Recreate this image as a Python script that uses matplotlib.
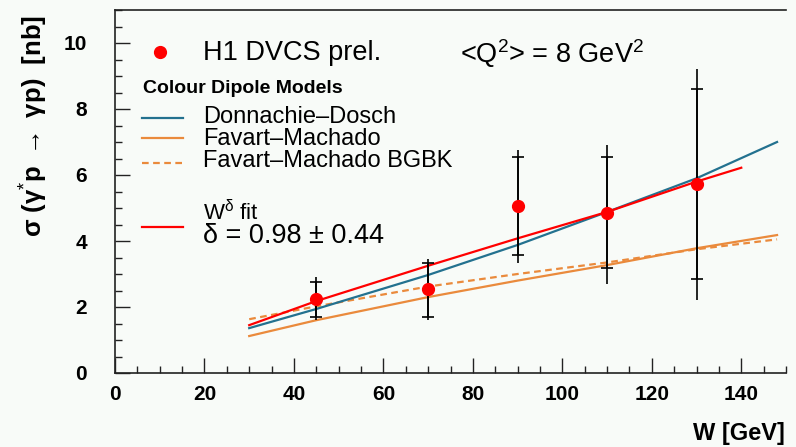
import matplotlib
matplotlib.use("Agg")
import matplotlib.pyplot as plt
import numpy as np

plt.rcParams['font.family'] = ['Liberation Sans', 'DejaVu Sans']
plt.rcParams['mathtext.fontset'] = 'custom'
plt.rcParams['mathtext.rm'] = 'Liberation Sans'
plt.rcParams['mathtext.it'] = 'Liberation Sans'
plt.rcParams['mathtext.bf'] = 'Liberation Sans:bold'
plt.rcParams['mathtext.fallback'] = 'stixsans'

# ---- data ----
W_data = [45, 70, 90, 110, 130]
sigma_data = [2.25, 2.55, 5.05, 4.85, 5.72]
stat_hi = [2.76, 3.33, 6.55, 6.55, 8.6]
stat_lo = [1.70, 1.70, 3.58, 3.18, 2.85]
tot_hi = [2.92, 3.45, 6.75, 6.9, 9.2]
tot_lo = [1.60, 1.60, 3.33, 2.70, 2.20]

W_dd = [30, 45, 70, 90, 110, 130, 148]
sig_dd = [1.36, 1.94, 2.97, 3.88, 4.88, 5.90, 7.0]

W_fm = [30, 45, 70, 90, 110, 130, 148]
sig_fm = [1.12, 1.60, 2.30, 2.80, 3.27, 3.78, 4.18]

W_bgbk = [30, 45, 70, 90, 110, 130, 148]
sig_bgbk = [1.63, 2.02, 2.62, 3.00, 3.35, 3.75, 4.05]

W_fit = [30, 45, 70, 90, 110, 130, 140]
sig_fit = [1.45, 2.18, 3.25, 4.08, 4.88, 5.80, 6.22]

x_ticks = [0, 20, 40, 60, 80, 100, 120, 140]
y_ticks = [0, 2, 4, 6, 8, 10]

blue = '#23718f'
orange = '#ea8a3c'
red = '#ff0000'
bg = '#f8fbf8'

fig = plt.figure(figsize=(7.96, 4.47), dpi=100, facecolor=bg)
ax = fig.add_axes([115/796, 1-373/447, (786-115)/796, (373-10)/447])
ax.set_facecolor(bg)
ax.set_xlim(0, 150)
ax.set_ylim(0, 11)

# model curves
ax.plot(W_fm, sig_fm, color=orange, lw=1.6)
ax.plot(W_bgbk, sig_bgbk, color=orange, lw=1.6, ls=(0, (3, 2)))
ax.plot(W_dd, sig_dd, color=blue, lw=1.6)
ax.plot(W_fit, sig_fit, color=red, lw=1.6)

# error bars
W = np.array(W_data)
s = np.array(sigma_data)
ax.vlines(W, tot_lo, tot_hi, color='black', lw=1.2, zorder=4)
ax.errorbar(W, s, yerr=[s - np.array(stat_lo), np.array(stat_hi) - s], fmt='none',
            ecolor='black', elinewidth=1.2, capsize=4.5, capthick=1.2, zorder=4)
ax.plot(W, s, 'o', color=red, ms=8.5, zorder=5)

# ticks
ax.set_xticks(x_ticks)
ax.set_yticks(y_ticks)
ax.set_xticks(np.arange(0, 151, 5), minor=True)
ax.set_yticks(np.arange(0, 11.01, 0.5), minor=True)
ax.tick_params(which='both', direction='in', top=False, right=False, width=1.0, color='#222222')
ax.tick_params(which='major', length=11, labelsize=15)
ax.tick_params(axis='y', which='major', pad=20)
ax.tick_params(axis='x', which='major', pad=9)
ax.tick_params(which='minor', length=5)
for lab in ax.get_xticklabels() + ax.get_yticklabels():
    lab.set_fontweight('bold')
for sp in ax.spines.values():
    sp.set_linewidth(1.2)
    sp.set_color('#222222')
ax.spines['right'].set_visible(False)

ax.set_ylabel(r'σ (γ$^{*}$p $\mathbf{\rightarrow}$ γp)  [nb]', fontsize=18.5, fontweight='bold')
ax.yaxis.set_label_coords(-0.097, 0.68)
fig.text(785/796, 1-440/447, 'W [GeV]', ha='right', va='baseline', fontsize=17, fontweight='bold')

# legend (drawn manually)
ax.plot([10.05], [9.73], 'o', color=red, ms=8.5, clip_on=False)
ax.text(19.7, 9.48, 'H1 DVCS prel.', fontsize=19.5, va='baseline')
ax.text(77.1, 9.39, r'<Q$^2$> = 8 GeV$^2$', fontsize=19.5, va='baseline')
ax.text(6.25, 8.48, 'Colour Dipole Models', fontsize=14, fontweight='bold', va='baseline')
ax.plot([6.0, 15.2], [7.73, 7.73], color=blue, lw=1.6)
ax.plot([6.0, 15.2], [7.12, 7.12], color=orange, lw=1.6)
ax.plot([6.0, 15.2], [6.36, 6.36], color=orange, lw=1.6, ls=(0, (3, 2)))
ax.plot([6.0, 15.2], [4.42, 4.42], color=red, lw=1.6)
ax.text(19.66, 7.58, 'Donnachie–Dosch', fontsize=17, va='baseline')
ax.text(19.66, 6.91, 'Favart–Machado', fontsize=17, va='baseline')
ax.text(19.66, 6.24, 'Favart–Machado BGBK', fontsize=17, va='baseline')
ax.text(19.66, 4.64, r'W$^{\delta}$ fit', fontsize=16, va='baseline')
ax.text(19.66, 3.94, 'δ = 0.98 ± 0.44', fontsize=19.5, va='baseline')

fig.savefig('out.png', dpi=100, facecolor=bg)
